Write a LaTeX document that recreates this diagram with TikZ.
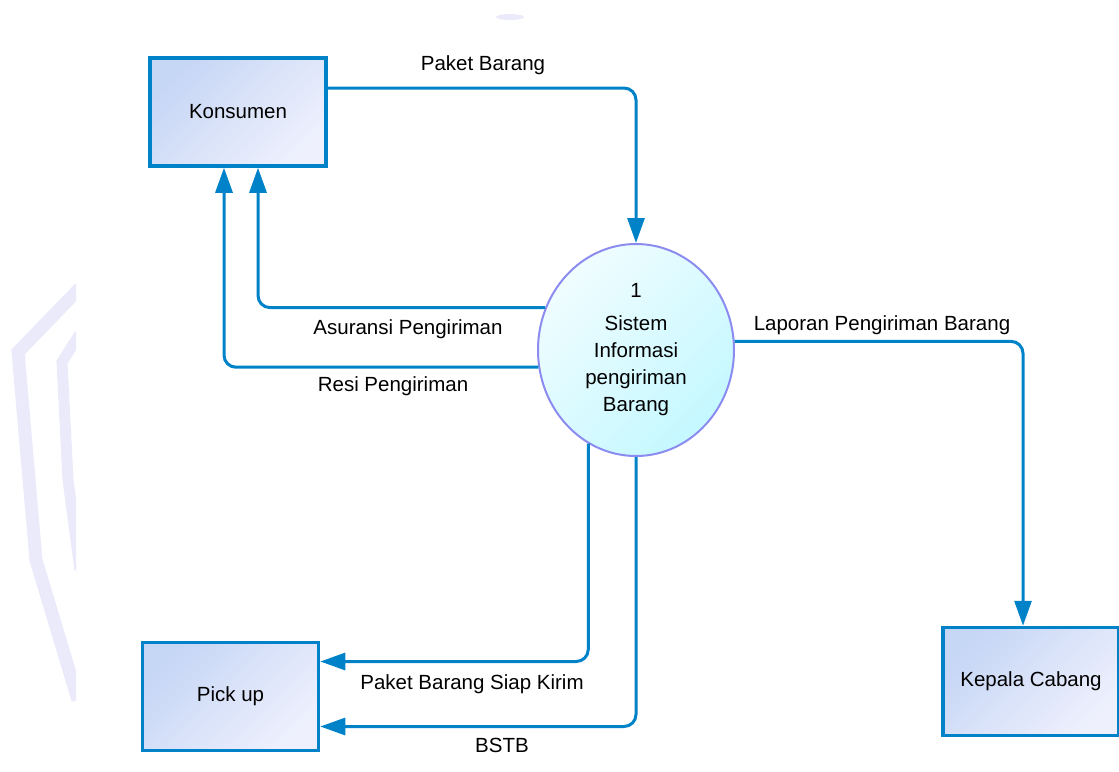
\documentclass[tikz,border=0pt]{standalone}
\usepackage{fontspec}
\setmainfont{Liberation Sans}
\usetikzlibrary{arrows.meta,shapes.geometric}

\definecolor{flowblue}{RGB}{0,130,200}
\definecolor{boxtop}{RGB}{198,214,245}
\definecolor{boxbot}{RGB}{238,240,253}
\definecolor{proctop}{RGB}{240,253,255}
\definecolor{procbot}{RGB}{196,248,255}
\definecolor{procline}{RGB}{140,140,240}
\definecolor{wmark}{RGB}{234,234,250}

\begin{document}
\begin{tikzpicture}[x=1pt, y=-1pt,
        entity/.style={draw=flowblue, line width=3.5pt, minimum width=176pt, minimum height=108pt,
            top color=boxtop, bottom color=boxbot, shading angle=45, inner sep=0pt,
            font=\fontsize{20.5}{24}\selectfont},
        process/.style={ellipse, draw=procline, line width=2pt, minimum width=196pt, minimum height=212pt,
            top color=proctop, bottom color=procbot, shading angle=45, inner sep=0pt, align=center,
            font=\fontsize{20.5}{27}\selectfont},
        flow/.style={draw=flowblue, line width=3pt, rounded corners=12pt,
            -{Triangle[length=25pt, width=17pt]}},
        flowlabel/.style={inner sep=0pt, font=\fontsize{20.5}{24}\selectfont}]

        % Fix the page size
        \useasboundingbox (0,0) rectangle (1119,771);

        % Faint watermark on the left
        \begin{scope}
            \clip (0,0) rectangle (76,771);
            \draw[wmark, line width=13pt] (80,288) -- (18,352) -- (36,560) -- (78,700);
            \draw[wmark, line width=11pt] (80,334) -- (62,362) -- (68,480) -- (80,570);
        \end{scope}
        \fill[wmark] (510,17) ellipse (14pt and 3pt);

        % External entities
        \node[entity] (kons) at (238,112) {Konsumen};
        \node[entity] (pick) at (230.5,696.5) {Pick up};
        \node[entity] (kepala) at (1031,681.5) {Kepala Cabang};

        % The process
        \node[process] (proc) at (636,350) {1\\[6pt]Sistem\\Informasi\\pengiriman\\Barang};

        % Data flows
        \draw[flow] ([yshift=24pt]kons.east) -| (proc.north);
        \draw[flow] (proc.155) -| ([xshift=20pt]kons.south);
        \draw[flow] (proc.190) -| ([xshift=-14pt]kons.south);
        \draw[flow] (proc.5) -| ([xshift=-8pt]kepala.north);
        \draw[flow] (proc.243) |- ([yshift=35pt]pick.east);
        \draw[flow] (proc.south) |- ([yshift=-30pt]pick.east);

        % Flow labels
        \node[flowlabel] (lpaket) at (483,65) {Paket Barang};
        \node[flowlabel] (lasur) at (408,329) {Asuransi Pengiriman};
        \node[flowlabel] (lresi) at (393,386) {Resi Pengiriman};
        \node[flowlabel] (llapor) at (882,325) {Laporan Pengiriman Barang};
        \node[flowlabel] (lsiap) at (472,684) {Paket Barang Siap Kirim};
        \node[flowlabel] (lbstb) at (502,745) {BSTB};
    \end{tikzpicture}
\end{document}
